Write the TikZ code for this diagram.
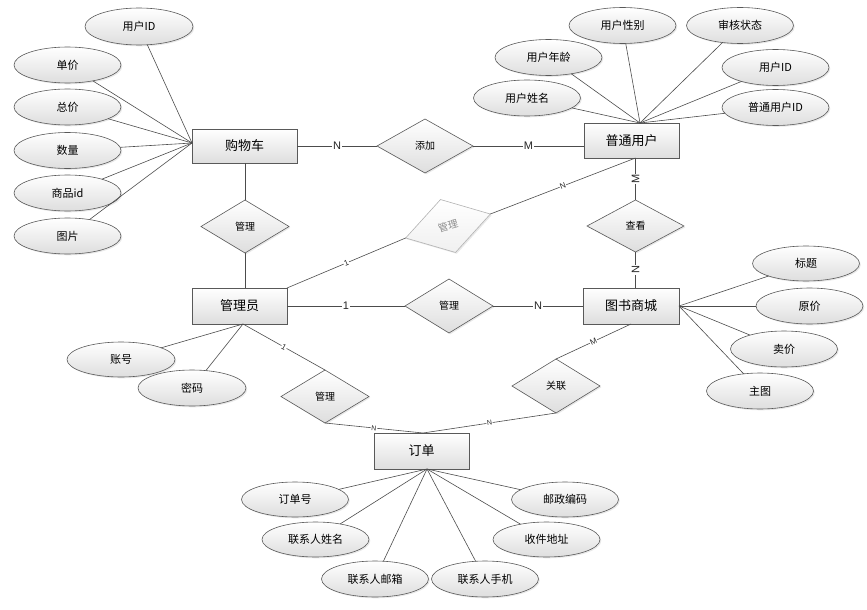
\documentclass[tikz,border=0pt]{standalone}
\usepackage{fontspec}
\setmainfont{Noto Sans CJK SC}
\newfontfamily\labfont{Liberation Sans}
\usetikzlibrary{shapes.geometric,shadows,calc}
\begin{document}
\begin{tikzpicture}[x=1pt,y=-1pt,
  line/.style={draw=black!70, line width=0.6pt},
  base/.style={draw=black!65, line width=0.6pt, top color=white, bottom color=black!13, inner sep=0pt, outer sep=0pt,
    drop shadow={opacity=0.18,shadow xshift=1.3pt,shadow yshift=-1.3pt}},
  entity/.style={base, rectangle, minimum width=95pt, minimum height=35pt, font=\fontsize{13}{15}\selectfont},
  attr/.style={base, ellipse, minimum width=107pt, minimum height=36pt, font=\fontsize{11}{13}\selectfont},
  rel/.style={base, diamond, minimum width=88pt, minimum height=53pt, font=\fontsize{10}{12}\selectfont},
  grayrel/.style={rel, draw=black!30, text=black!45, bottom color=black!6, rotate=15.8},
  card/.style={fill=white, inner sep=0.6pt, font=\labfont\fontsize{11}{12}\selectfont, text=black!85},
  scard/.style={card, sloped, font=\labfont\fontsize{8}{9}\selectfont},
  tcard/.style={card, sloped, font=\labfont\fontsize{7}{8}\selectfont},
]
\useasboundingbox (0,0) rectangle (867,610);

% entities
\node[entity, minimum width=105pt, minimum height=34pt] (cart) at (244.5,146) {购物车};
\node[entity] (yonghu) at (631.5,140.5) {普通用户};
\node[entity, minimum height=36pt] (admin) at (239.5,306) {管理员};
\node[entity, minimum width=96pt, minimum height=36pt] (tushu) at (631,306) {图书商城};
\node[entity, minimum height=36pt] (dd) at (421.5,451) {订单};

% relationships
\node[rel, minimum width=96pt, minimum height=54pt] (tj) at (425,146) {添加};
\node[rel] (gl1) at (245,226.5) {管理};
\node[grayrel, minimum height=55pt] (glg) at (448,226) {管理};
\node[rel, minimum height=54pt] (gl2) at (449,306) {管理};
\node[rel, minimum width=97pt, minimum height=52pt] (ck) at (635.5,226) {查看};
\node[rel] (gl3) at (325,396.5) {管理};
\node[rel, minimum height=54pt] (gln) at (556,386) {关联};

% attributes of cart
\node[attr, minimum width=108pt, minimum height=37pt] (a1) at (139,26.5) {用户ID};
\node[attr] (a2) at (67.5,65) {单价};
\node[attr] (a3) at (67.5,107) {总价};
\node[attr] (a4) at (67.5,150.5) {数量};
\node[attr] (a5) at (67.5,193) {商品id};
\node[attr] (a6) at (67.5,236) {图片};

% attributes of user
\node[attr] (b1) at (527,98) {用户姓名};
\node[attr] (b2) at (548.5,57.5) {用户年龄};
\node[attr] (b3) at (622.5,25.5) {用户性别};
\node[attr] (b4) at (740,25.5) {审核状态};
\node[attr] (b5) at (775.5,67.5) {用户ID};
\node[attr] (b6) at (775.5,107.5) {普通用户ID};

% attributes of bookstore
\node[attr, minimum height=35pt] (c1) at (806,263.5) {标题};
\node[attr] (c2) at (809.5,306) {原价};
\node[attr] (c3) at (784,349) {卖价};
\node[attr] (c4) at (760,391) {主图};

% attributes of admin
\node[attr, minimum width=108pt, minimum height=35pt] (d1) at (121,359.5) {账号};
\node[attr, minimum width=108pt] (d2) at (192,388) {密码};

% attributes of order
\node[attr, minimum height=35pt] (e1) at (295,499.5) {订单号};
\node[attr, minimum height=35pt] (e2) at (315.5,539.5) {联系人姓名};
\node[attr] (e3) at (375,579) {联系人邮箱};
\node[attr] (e4) at (485,579) {联系人手机};
\node[attr, minimum height=35pt] (e5) at (546.5,539.5) {收件地址};
\node[attr, minimum height=35pt] (e6) at (565,499.5) {邮政编码};

% convergence points
\coordinate (cw) at ($(cart.west)+(0,-3)$);
\coordinate (pu) at ($(yonghu.north)+(8.5,0)$);
\coordinate (pus) at ($(yonghu.south)+(4,0)$);
\coordinate (ab) at ($(admin.south)+(3.5,0)$);
\coordinate (dtop) at ($(dd.north)+(1.5,0)$);
\coordinate (dbot) at ($(dd.south)+(5.5,0)$);

% attribute lines
\foreach \n in {a1,a2,a3,a4,a5,a6} \draw[line] (cw) -- (\n);
\foreach \n in {b1,b2,b3,b4,b5,b6} \draw[line] (pu) -- (\n);
\foreach \n in {c1,c2,c3,c4} \draw[line] (tushu.east) -- (\n);
\foreach \n in {d1,d2} \draw[line] (ab) -- (\n);
\foreach \n in {e1,e2,e3,e4,e5,e6} \draw[line] (dbot) -- (\n);

% relationship lines
\draw[line] (cart.east) -- node[card]{N} (tj.west);
\draw[line] (tj.east) -- node[card]{M} (tj.east -| yonghu.west);
\draw[line] (gl1.north |- cart.south) -- (gl1.north);
\draw[line] (gl1.south) -- (gl1.south |- admin.north);
\draw[line] (admin.north east) -- node[scard]{1} (glg.west);
\draw[line] (glg.east) -- node[scard]{N} (pus);
\draw[line] (admin.east) -- node[card]{1} (gl2.west);
\draw[line] (gl2.east) -- node[card]{N} (tushu.west);
\draw[line] (ck.north |- yonghu.south) -- node[card, rotate=90]{M} (ck.north);
\draw[line] (ck.south) -- node[card, rotate=90]{N} (ck.south |- tushu.north);
\draw[line] (ab) -- node[scard]{1} (gl3.north);
\draw[line] (gl3.south) -- node[tcard]{N} (dtop);
\draw[line] (tushu.south) -- node[scard]{M} (gln.north);
\draw[line] (gln.south) -- node[tcard]{N} (dtop);
\end{tikzpicture}
\end{document}
